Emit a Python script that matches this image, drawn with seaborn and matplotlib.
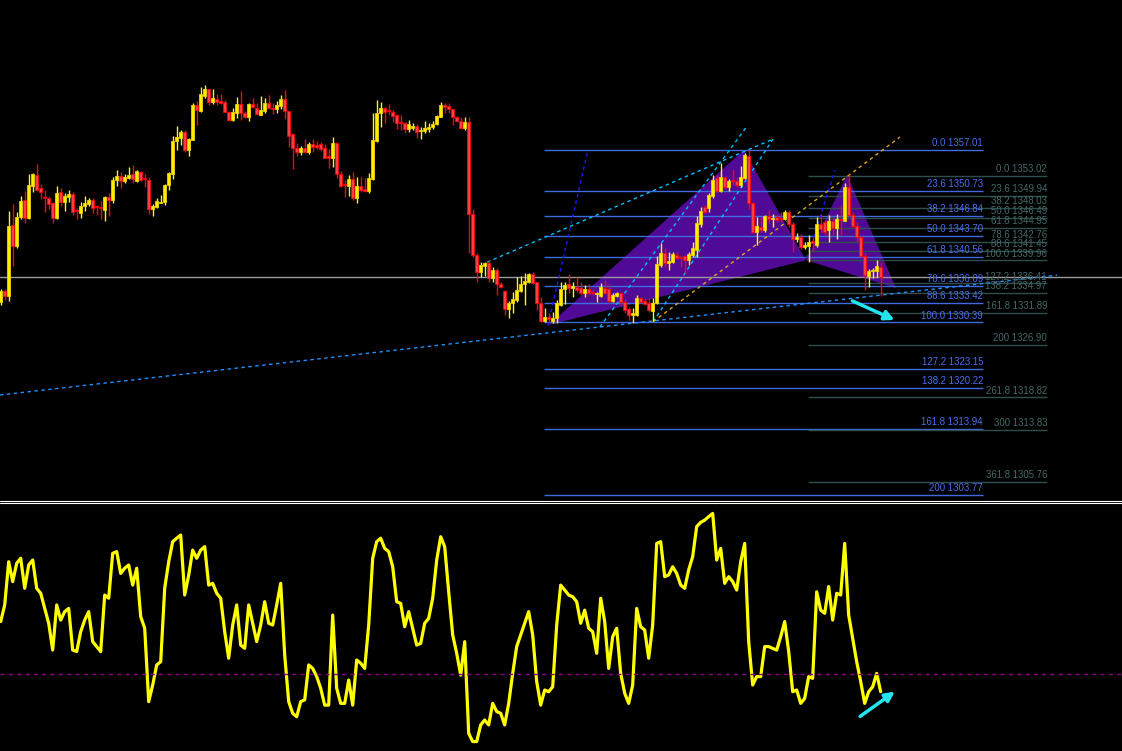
import numpy as np
import pandas as pd
import matplotlib
matplotlib.use("Agg")
import matplotlib.pyplot as plt
import seaborn as sns
from matplotlib.lines import Line2D

# candle data (one per bar)
opens = [
    1333.6, 1335.3, 1334.5, 1345.4, 1342.2, 1346.7, 1349.3, 1346.5, 1351.5, 1353.2,
    1351.2, 1349.7, 1349.6, 1348.9, 1346.5, 1350.5, 1349.0, 1349.8, 1350.2, 1347.7,
    1347.3, 1348.4, 1348.7, 1349.3, 1348.3, 1348.2, 1347.8, 1349.8, 1349.3, 1352.4,
    1353.0, 1352.2, 1352.7, 1353.3, 1352.2, 1353.6, 1352.6, 1352.4, 1347.9, 1348.2,
    1348.9, 1349.0, 1351.6, 1353.3, 1358.4, 1358.9, 1359.8, 1357.0, 1358.6, 1364.0,
    1363.0, 1365.3, 1366.4, 1364.4, 1364.9, 1364.6, 1364.4, 1362.9, 1361.6, 1362.7,
    1364.1, 1362.7, 1362.1, 1364.1, 1363.5, 1362.4, 1363.0, 1364.3, 1363.5, 1363.3,
    1363.8, 1364.9, 1363.0, 1359.5, 1357.3, 1356.7, 1357.3, 1356.7, 1357.9, 1357.8,
    1357.9, 1357.3, 1356.1, 1355.8, 1358.1, 1353.3, 1351.7, 1351.5, 1352.5, 1349.6,
    1351.5, 1351.0, 1350.7, 1352.5, 1358.4, 1362.7, 1363.5, 1363.1, 1362.9, 1362.4,
    1361.3, 1361.2, 1360.3, 1360.4, 1360.7, 1359.9, 1359.9, 1360.3, 1360.6, 1361.0,
    1362.1, 1364.0, 1363.8, 1363.3, 1362.1, 1361.5, 1360.4, 1361.3, 1347.1, 1340.8,
    1338.2, 1339.1, 1339.6, 1337.3, 1338.5, 1336.3, 1335.3, 1332.5, 1333.4, 1333.9,
    1335.3, 1336.3, 1336.6, 1337.9, 1336.6, 1333.4, 1330.6, 1331.2, 1330.6, 1331.1,
    1333.1, 1335.6, 1336.3, 1335.7, 1335.9, 1335.7, 1334.9, 1335.6, 1335.0, 1334.8,
    1334.5, 1335.7, 1335.6, 1333.7, 1334.5, 1334.9, 1333.6, 1332.5, 1331.6, 1331.6,
    1334.2, 1333.7, 1333.4, 1332.2, 1333.4, 1339.3, 1341.1, 1339.6, 1339.7, 1340.8,
    1340.5, 1340.7, 1340.0, 1340.8, 1341.6, 1345.6, 1348.2, 1348.1, 1349.9, 1352.7,
    1350.7, 1352.8, 1351.3, 1352.3, 1352.2, 1351.6, 1352.7, 1356.1, 1348.8, 1344.4,
    1345.1, 1344.7, 1346.8, 1346.4, 1346.7, 1346.5, 1346.4, 1347.4, 1345.6, 1343.3,
    1343.6, 1342.0, 1342.2, 1343.0, 1342.4, 1345.6, 1345.9, 1344.7, 1346.1, 1345.0,
    1346.3, 1346.1, 1351.3, 1347.0, 1345.3, 1343.6, 1340.7, 1337.6, 1338.4, 1338.3,
    1339.0,
]
highs = [
    1335.6, 1335.6, 1347.6, 1348.7, 1347.5, 1349.9, 1350.7, 1353.3, 1353.4, 1354.9,
    1351.8, 1350.8, 1349.7, 1349.0, 1351.5, 1351.2, 1350.4, 1350.8, 1350.5, 1348.1,
    1349.0, 1349.9, 1349.6, 1349.6, 1348.5, 1349.1, 1349.9, 1350.4, 1352.8, 1353.9,
    1353.6, 1353.3, 1354.4, 1354.7, 1353.9, 1353.7, 1353.3, 1352.8, 1348.7, 1349.6,
    1350.1, 1351.7, 1353.6, 1359.2, 1360.7, 1360.1, 1360.1, 1358.8, 1364.3, 1364.6,
    1366.7, 1367.0, 1366.5, 1366.4, 1365.7, 1365.7, 1364.7, 1363.0, 1363.5, 1365.2,
    1366.1, 1363.0, 1364.3, 1365.0, 1364.3, 1365.4, 1365.0, 1365.5, 1364.3, 1364.6,
    1365.5, 1366.3, 1363.1, 1359.6, 1358.1, 1357.6, 1358.7, 1358.3, 1358.7, 1358.4,
    1358.3, 1357.9, 1357.2, 1359.0, 1358.2, 1353.8, 1352.4, 1353.2, 1353.6, 1352.8,
    1352.8, 1352.7, 1353.5, 1362.7, 1364.7, 1364.4, 1363.6, 1364.1, 1363.2, 1362.6,
    1362.4, 1361.3, 1361.6, 1361.2, 1361.0, 1360.6, 1361.5, 1361.2, 1361.5, 1362.4,
    1364.4, 1364.3, 1364.3, 1363.4, 1362.2, 1362.1, 1362.1, 1362.1, 1347.9, 1341.1,
    1339.7, 1339.7, 1340.0, 1339.0, 1338.8, 1336.6, 1335.4, 1333.7, 1335.1, 1337.4,
    1337.6, 1338.0, 1338.0, 1338.2, 1336.7, 1334.3, 1332.6, 1331.9, 1332.0, 1333.9,
    1336.6, 1336.6, 1337.9, 1336.6, 1337.4, 1336.6, 1336.2, 1336.3, 1335.6, 1335.1,
    1336.5, 1337.0, 1336.3, 1334.9, 1335.1, 1335.1, 1334.0, 1332.8, 1332.6, 1334.6,
    1334.3, 1334.2, 1334.2, 1334.2, 1340.7, 1342.7, 1341.9, 1341.3, 1341.3, 1341.3,
    1340.7, 1340.8, 1341.3, 1342.8, 1346.8, 1348.2, 1348.5, 1350.4, 1353.2, 1353.2,
    1355.0, 1353.0, 1352.5, 1354.1, 1352.8, 1354.5, 1356.5, 1357.0, 1349.0, 1346.7,
    1346.7, 1347.0, 1347.8, 1347.1, 1347.0, 1347.4, 1347.8, 1347.8, 1345.9, 1344.2,
    1344.1, 1342.8, 1343.9, 1343.6, 1346.7, 1347.1, 1346.2, 1347.0, 1346.7, 1347.1,
    1348.5, 1351.9, 1353.2, 1347.5, 1345.9, 1343.9, 1341.1, 1338.6, 1338.8, 1340.0,
    1339.7,
]
lows = [
    1333.1, 1333.9, 1333.7, 1339.1, 1341.9, 1346.4, 1345.8, 1346.4, 1350.5, 1350.7,
    1349.5, 1347.5, 1347.9, 1345.8, 1346.4, 1348.4, 1347.6, 1349.0, 1347.0, 1346.4,
    1346.5, 1347.6, 1348.4, 1347.3, 1347.0, 1346.4, 1346.1, 1346.8, 1348.8, 1351.5,
    1351.2, 1351.9, 1352.6, 1351.9, 1352.1, 1352.2, 1351.3, 1347.2, 1346.8, 1348.1,
    1348.8, 1348.5, 1350.8, 1352.5, 1357.0, 1357.8, 1356.7, 1356.1, 1358.5, 1360.9,
    1362.9, 1365.0, 1364.0, 1364.1, 1364.0, 1364.1, 1362.8, 1361.5, 1361.5, 1362.0,
    1361.6, 1361.9, 1361.5, 1363.5, 1362.4, 1362.4, 1362.7, 1363.3, 1362.6, 1362.7,
    1363.3, 1361.8, 1357.5, 1354.1, 1356.1, 1356.2, 1356.6, 1356.4, 1356.7, 1357.2,
    1356.9, 1355.7, 1354.2, 1354.4, 1352.7, 1351.3, 1349.8, 1349.9, 1349.3, 1348.8,
    1350.5, 1350.5, 1350.4, 1352.4, 1358.2, 1360.6, 1361.2, 1362.4, 1361.3, 1360.3,
    1360.1, 1359.6, 1359.8, 1360.1, 1358.9, 1358.7, 1359.6, 1359.8, 1360.3, 1360.9,
    1362.1, 1362.7, 1362.7, 1360.9, 1361.3, 1360.3, 1360.1, 1341.1, 1340.5, 1336.6,
    1337.4, 1337.6, 1336.6, 1336.6, 1334.6, 1335.7, 1331.6, 1331.1, 1331.9, 1333.6,
    1335.1, 1333.1, 1336.5, 1336.4, 1332.3, 1330.5, 1330.5, 1330.3, 1330.3, 1330.3,
    1332.9, 1333.3, 1335.0, 1334.3, 1335.1, 1334.6, 1334.3, 1334.6, 1334.6, 1333.6,
    1334.3, 1334.8, 1333.4, 1333.6, 1334.4, 1332.9, 1331.9, 1330.8, 1330.3, 1331.4,
    1333.4, 1333.1, 1332.0, 1330.6, 1333.3, 1338.9, 1338.9, 1338.5, 1339.6, 1340.2,
    1338.9, 1338.0, 1339.3, 1340.5, 1340.5, 1345.1, 1347.3, 1347.5, 1349.6, 1350.5,
    1350.6, 1351.0, 1350.7, 1351.6, 1351.3, 1351.3, 1352.5, 1347.9, 1344.2, 1342.4,
    1344.4, 1344.4, 1345.8, 1345.1, 1345.9, 1345.9, 1346.2, 1345.1, 1341.3, 1342.8,
    1341.7, 1341.7, 1339.7, 1341.4, 1342.0, 1344.4, 1343.9, 1342.8, 1343.9, 1343.3,
    1343.9, 1346.0, 1346.7, 1345.0, 1342.8, 1340.5, 1335.4, 1335.9, 1337.3, 1337.4,
    1334.5,
]
closes = [
    1335.3, 1334.5, 1345.3, 1342.2, 1346.7, 1349.1, 1346.5, 1351.6, 1353.3, 1350.8,
    1350.5, 1349.6, 1348.7, 1346.5, 1350.4, 1349.0, 1349.9, 1350.2, 1347.5, 1347.6,
    1348.4, 1348.8, 1349.3, 1348.1, 1348.2, 1348.0, 1349.8, 1349.3, 1352.4, 1353.0,
    1352.2, 1352.8, 1353.2, 1352.5, 1353.8, 1352.4, 1352.5, 1347.9, 1348.4, 1349.1,
    1349.0, 1351.6, 1353.5, 1358.4, 1359.0, 1359.8, 1357.0, 1358.7, 1364.0, 1363.2,
    1365.7, 1366.4, 1364.4, 1365.0, 1364.4, 1364.3, 1362.9, 1361.6, 1362.9, 1364.1,
    1362.7, 1362.1, 1364.1, 1363.6, 1362.6, 1363.2, 1364.3, 1363.5, 1363.4, 1364.0,
    1364.9, 1363.0, 1359.2, 1357.3, 1356.7, 1357.3, 1356.7, 1357.9, 1357.5, 1357.5,
    1357.2, 1355.8, 1355.8, 1358.1, 1353.3, 1351.5, 1351.6, 1352.5, 1349.6, 1351.5,
    1350.8, 1350.7, 1352.7, 1358.6, 1362.7, 1363.5, 1362.9, 1363.0, 1362.3, 1361.2,
    1361.2, 1360.3, 1361.0, 1360.7, 1359.8, 1360.0, 1360.4, 1360.6, 1361.0, 1362.3,
    1364.0, 1363.6, 1363.3, 1362.1, 1361.5, 1360.4, 1361.3, 1347.1, 1340.8, 1338.2,
    1339.3, 1339.6, 1337.3, 1338.5, 1336.3, 1335.9, 1332.5, 1333.4, 1334.0, 1335.4,
    1336.3, 1336.8, 1337.9, 1336.5, 1333.4, 1330.6, 1331.2, 1330.9, 1331.1, 1333.4,
    1335.6, 1336.2, 1335.7, 1336.0, 1335.4, 1334.9, 1335.6, 1334.9, 1334.9, 1334.9,
    1335.9, 1334.9, 1333.7, 1334.6, 1334.9, 1333.6, 1332.3, 1331.6, 1331.8, 1334.2,
    1333.6, 1333.2, 1332.3, 1333.4, 1339.4, 1341.1, 1339.6, 1339.9, 1341.0, 1340.3,
    1340.4, 1340.0, 1341.0, 1341.9, 1345.8, 1347.6, 1347.5, 1350.1, 1352.4, 1350.7,
    1352.8, 1351.3, 1352.2, 1352.2, 1351.6, 1352.8, 1356.2, 1348.8, 1344.4, 1345.3,
    1344.7, 1346.8, 1346.4, 1346.5, 1346.2, 1346.4, 1347.4, 1345.6, 1343.3, 1343.6,
    1342.0, 1342.4, 1342.8, 1342.7, 1345.6, 1344.8, 1344.4, 1346.1, 1345.0, 1346.4,
    1346.2, 1351.3, 1347.0, 1345.3, 1343.6, 1340.7, 1337.7, 1338.3, 1338.5, 1339.1,
    1337.4,
]

# oscillator (lower window), one value per bar
osc = [
    51.2, 57.9, 75.3, 67.3, 74.7, 76.7, 64.6, 74.0, 76.0, 64.6,
    62.6, 56.5, 50.5, 39.7, 57.9, 51.8, 55.2, 56.5, 39.7, 39.1,
    47.1, 51.8, 55.2, 43.1, 41.1, 39.1, 61.9, 60.6, 78.7, 79.4,
    70.6, 72.7, 74.0, 65.9, 72.7, 53.2, 48.5, 18.9, 25.6, 33.7,
    35.0, 64.6, 75.3, 83.4, 84.8, 86.1, 61.9, 69.9, 80.0, 76.7,
    80.0, 81.4, 65.9, 66.6, 62.6, 60.6, 47.1, 36.4, 49.8, 57.9,
    41.7, 40.4, 57.9, 50.5, 43.1, 49.8, 59.2, 50.5, 49.8, 57.9,
    66.6, 37.7, 18.9, 14.2, 12.8, 18.9, 19.6, 33.7, 32.3, 29.0,
    24.3, 17.5, 17.5, 53.8, 24.3, 18.2, 18.2, 27.6, 17.5, 35.7,
    34.4, 32.3, 49.8, 76.7, 83.4, 84.8, 80.7, 79.4, 73.3, 59.2,
    58.5, 49.1, 55.2, 48.5, 41.7, 42.4, 50.5, 52.5, 60.6, 76.0,
    85.4, 81.4, 63.2, 45.8, 38.4, 29.6, 43.1, 6.1, 2.8, 2.8,
    9.5, 11.5, 9.5, 18.2, 14.9, 14.2, 9.5, 18.2, 30.3, 41.1,
    45.8, 50.5, 55.2, 45.8, 27.0, 17.5, 23.6, 22.9, 24.9, 49.8,
    65.9, 63.9, 61.9, 61.2, 59.2, 50.5, 55.8, 48.5, 47.1, 38.4,
    60.6, 51.2, 32.3, 45.1, 48.5, 30.3, 22.3, 18.2, 25.6, 56.5,
    49.1, 47.8, 36.4, 49.8, 82.7, 83.4, 69.3, 70.0, 73.3, 70.6,
    65.9, 64.6, 72.0, 77.4, 89.5, 91.2, 92.1, 93.5, 94.8, 76.0,
    80.7, 66.6, 69.3, 67.3, 63.9, 75.3, 82.7, 43.1, 25.6, 29.0,
    29.0, 41.1, 41.1, 40.4, 39.7, 45.1, 51.2, 39.1, 22.9, 23.6,
    18.2, 20.2, 29.0, 28.3, 63.2, 55.8, 54.5, 65.3, 51.8, 62.6,
    61.9, 82.7, 53.8, 44.4, 35.0, 27.0, 18.2, 22.9, 24.9, 30.3,
    22.9,
]
osc_level = 30

# fibonacci retracement / expansion levels
blue_levels = ["0.0", "23.6", "38.2", "50.0", "61.8", "78.6", "88.6", "100.0",
               "127.2", "138.2", "161.8", "200"]
blue_prices = [1357.01, 1350.73, 1346.84, 1343.70, 1340.56, 1336.09, 1333.42,
               1330.39, 1323.15, 1320.22, 1313.94, 1303.77]
grey_levels = ["0.0", "23.6", "38.2", "50.0", "61.8", "78.6", "88.6", "100.0",
               "127.2", "138.2", "161.8", "200", "261.8", "300", "361.8"]
grey_prices = [1353.02, 1349.94, 1348.03, 1346.49, 1344.95, 1342.76, 1341.45,
               1339.96, 1336.41, 1334.97, 1331.89, 1326.90, 1318.82, 1313.83,
               1305.76]
bid_price = 1337.4

# harmonic pattern points X, A, B, C, D (bar index, price)
pattern_bar = [137.0, 185.8, 201.3, 211.6, 223.8]
pattern_price = [1330.0, 1357.0, 1340.0, 1353.2, 1335.7]

# hand drawn trend lines: (bar0, price0, bar1, price1, colour)
trend_lines = [
    (121.6, 1339.7, 193.1, 1358.7, "#00bfff"),
    (149.8, 1329.7, 186.6, 1360.7, "#00bfff"),
    (163.1, 1330.5, 193.1, 1358.7, "#00bfff"),
    (-0.2, 1319.2, 264.1, 1337.7, "#1e90ff"),
    (136.8, 1329.9, 146.8, 1357.0, "#1a1aff"),
    (201.6, 1340.4, 208.6, 1353.9, "#1a1aff"),
    (163.1, 1330.5, 224.8, 1359.0, "#daa520"),
]

sns.set_theme(style="dark", rc={"axes.facecolor": "black", "figure.facecolor": "black"})
plt.rcParams["font.family"] = ["Liberation Sans", "DejaVu Sans"]

df = pd.DataFrame({"o": opens, "h": highs, "l": lows, "c": closes})
df["bar"] = np.arange(len(df))
up = df["c"] >= df["o"]

fig = plt.figure(figsize=(11.22, 7.51), dpi=100)
ax = fig.add_axes([0, 252 / 751, 1, 499 / 751])
ax2 = fig.add_axes([0, 0, 1, 248 / 751])
xlim = (-0.175, 280.33)

# pattern fill underneath everything
ax.fill(pattern_bar[:3], pattern_price[:3], color="#500a96", lw=0, zorder=1)
ax.fill(pattern_bar[2:], pattern_price[2:], color="#500a96", lw=0, zorder=1)

# fib levels
ax.hlines(blue_prices, 135.8, 245.6, color="#4169e1", lw=1, zorder=2)
for lvl, p in zip(blue_levels, blue_prices):
    ax.text(245.6, p + 0.3, f"{lvl} {p:.2f}", ha="right", va="bottom",
            fontsize=6.9, color="#4a6ef0", zorder=3)
ax.hlines(grey_prices, 201.8, 261.6, color="#2f4f4f", lw=1, zorder=2)
for lvl, p in zip(grey_levels, grey_prices):
    ax.text(261.6, p + 0.3, f"{lvl} {p:.2f}", ha="right", va="bottom",
            fontsize=6.9, color="#456868", zorder=3)

ax.axhline(bid_price, color="#9a9a9a", lw=1, zorder=2)

for x0, y0, x1, y1, col in trend_lines:
    ax.plot([x0, x1], [y0, y1], color=col, lw=1, ls=(0, (2.5, 2.5)), zorder=2.5)

# candles
wick_col = np.where(up, "#ffff00", "#ff0000")
face_col = np.where(up, "#ffee00", "#e8464f")
edge_col = np.where(up, "#f0d000", "#ff0000")
ax.vlines(df["bar"], df["l"], df["h"], colors=wick_col, lw=1, zorder=4)
body = np.maximum((df["c"] - df["o"]).abs(), 0.15)
ax.bar(df["bar"], body, bottom=np.minimum(df["o"], df["c"]), width=0.75,
       color=face_col, edgecolor=edge_col, linewidth=0.6, zorder=5)

ax.annotate("", xy=(224.1, 1330.6), xytext=(212.3, 1333.9),
            arrowprops=dict(arrowstyle="-|>", color="#22e5ee", lw=2.5,
                            mutation_scale=14), zorder=6)

ax.set_xlim(xlim)
ax.set_ylim(1303.15, 1380.16)
ax.set_axis_off()

# oscillator window
sns.lineplot(x=np.arange(len(osc)), y=osc, ax=ax2, color="#ffff00", lw=2.3)
ax2.axhline(osc_level, color="#8b008b", lw=1, ls=(0, (3, 3)))
ax2.annotate("", xy=(224.1, 23.6), xytext=(214.3, 12.3),
             arrowprops=dict(arrowstyle="-|>", color="#22e5ee", lw=2.5,
                             mutation_scale=14))
ax2.set_xlim(xlim)
ax2.set_ylim(-1, 99)
ax2.set_axis_off()

# window separator
for ypix in (500.5, 502.5):
    fig.add_artist(Line2D([0, 1], [1 - ypix / 751] * 2, transform=fig.transFigure,
                          color="white", lw=0.8))

fig.savefig("out.png", dpi=100, facecolor="black")
